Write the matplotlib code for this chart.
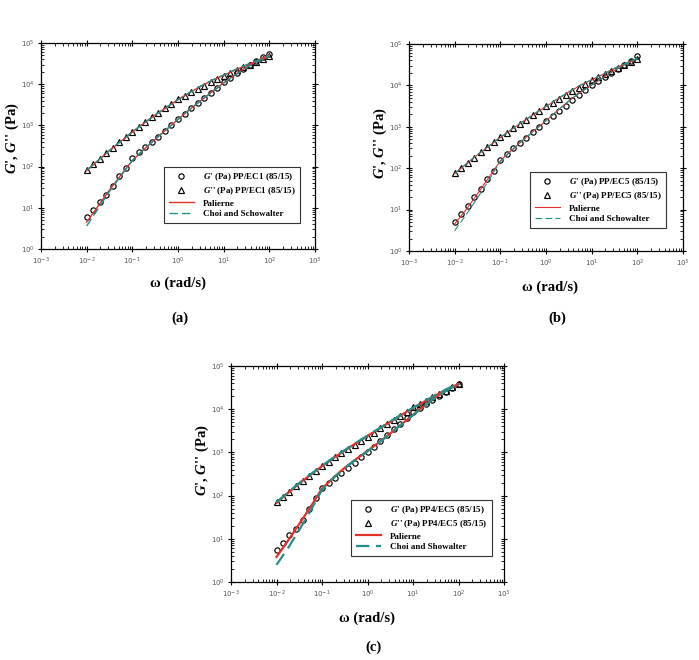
import matplotlib
matplotlib.use("Agg")
import matplotlib.pyplot as plt
from matplotlib.ticker import LogLocator, NullFormatter

plt.rcParams["mathtext.fontset"] = "custom"
plt.rcParams["mathtext.rm"] = "Liberation Serif:bold"
plt.rcParams["mathtext.it"] = "Liberation Serif:italic:bold"
plt.rcParams["mathtext.bf"] = "Liberation Serif:bold"

# angular frequency of the measured points (rad/s), 7 per decade
omega = [0.01, 0.0139, 0.0193, 0.0268, 0.0373, 0.0518, 0.072,
         0.1, 0.139, 0.193, 0.268, 0.373, 0.518, 0.72,
         1.0, 1.39, 1.93, 2.68, 3.73, 5.18, 7.2,
         10.0, 13.9, 19.3, 26.8, 37.3, 51.8, 72.0, 100.0]

# frequencies of the model curves
omega_fit = [0.01, 0.0178, 0.0316, 0.0562, 0.1, 0.178, 0.316, 0.562, 1.0,
             1.78, 3.16, 5.62, 10.0, 17.8, 31.6, 56.2, 100.0]

# (a) PP/EC1 (85/15)
a_g1 = [6, 9, 14, 21, 33, 60, 90, 160, 220, 300, 400, 530, 720, 1000,
        1400, 1900, 2600, 3500, 4700, 6200, 8300, 11000, 14500, 19000,
        24000, 30000, 37000, 45000, 55000]
a_g2 = [85, 115, 155, 210, 285, 385, 520, 700, 920, 1200, 1560, 2000, 2600,
        3350, 4300, 5200, 6300, 7600, 9100, 11000, 13200, 16000, 18700,
        21900, 25600, 29900, 35000, 41000, 48000]
a_pal_g1 = [4.5, 11, 27, 62, 140, 260, 460, 800, 1400, 2400, 4000, 6600,
            10800, 17000, 26000, 38000, 52000]
a_pal_g2 = [80, 140, 245, 410, 690, 1120, 1780, 2750, 4200, 6200, 8900,
            12400, 16500, 22000, 29000, 37000, 46000]
a_choi_g1 = [3.6, 9.5, 25, 60, 140, 260, 460, 800, 1400, 2400, 4000, 6500,
             10500, 16500, 25000, 36000, 50000]
a_choi_g2 = [82, 142, 248, 415, 700, 1130, 1800, 2780, 4250, 6250, 9000,
             12600, 16800, 22500, 29500, 38000, 47000]

# (b) PP/EC5 (85/15)
b_g1 = [5, 8, 12, 20, 32, 55, 85, 160, 220, 300, 400, 540, 740, 1000,
        1400, 1850, 2460, 3260, 4320, 5720, 7580, 10000, 12600, 15800,
        19900, 25000, 31500, 39700, 50000]
b_g2 = [76, 101, 135, 180, 240, 320, 425, 565, 725, 925, 1180, 1500, 1920,
        2450, 3100, 3820, 4720, 5820, 7180, 8860, 10900, 13500, 16000,
        18900, 22400, 26500, 31400, 37200, 44000]
b_pal_g1 = [4.5, 10, 24, 60, 150, 275, 480, 820, 1400, 2450, 4200, 6800,
            10200, 15500, 23000, 33000, 45000]
b_pal_g2 = [74, 125, 210, 340, 550, 870, 1340, 2050, 3100, 4650, 6900,
            10000, 13500, 18500, 25500, 34000, 43000]
b_choi_g1 = [3.1, 7.5, 19, 52, 145, 270, 480, 820, 1400, 2450, 4200, 6800,
             10200, 15500, 23000, 33000, 45000]
b_choi_g2 = [75, 127, 214, 346, 560, 885, 1365, 2090, 3160, 4740, 7030,
             10200, 13800, 18900, 26000, 34700, 43800]

# (c) PP4/EC5 (85/15)
c_g1 = [5.5, 8, 12, 17, 27, 50, 90, 150, 197, 258, 338, 443, 581, 762,
        1000, 1357, 1841, 2500, 3390, 4600, 6240, 8500, 10500, 13000,
        16200, 20000, 24800, 30700, 38000]
c_g2 = [71, 94, 123, 163, 214, 282, 372, 490, 611, 762, 950, 1185, 1480,
        1840, 2300, 2870, 3590, 4490, 5610, 7010, 8760, 11000, 13100,
        15700, 18700, 22300, 26700, 31800, 38000]
c_pal_g1 = [3.8, 9, 22, 55, 145, 260, 440, 700, 1080, 1700, 2750, 4500,
            7400, 12000, 19000, 28000, 38000]
c_pal_g2 = [68, 115, 190, 305, 480, 740, 1110, 1640, 2400, 3500, 5100,
            7400, 10600, 15000, 21000, 29000, 38000]
c_choi_g1 = [2.5, 6, 16, 45, 135, 255, 430, 690, 1060, 1680, 2720, 4450,
             7300, 11800, 18800, 27500, 37500]
c_choi_g2 = [70, 118, 195, 312, 490, 755, 1130, 1670, 2440, 3560, 5200,
             7550, 10800, 15300, 21500, 29500, 38500]

panels = [
    ("(a)", "PP/EC1", "Choi and Schowalter", a_g1, a_g2, a_pal_g1, a_pal_g2, a_choi_g1, a_choi_g2),
    ("(b)", "PP/EC5", "Choi and Schowalter", b_g1, b_g2, b_pal_g1, b_pal_g2, b_choi_g1, b_choi_g2),
    ("(c)", "PP4/EC5", "Choi and Showalter", c_g1, c_g2, c_pal_g1, c_pal_g2, c_choi_g1, c_choi_g2),
]

W, H = 699, 660
# axes boxes in pixels: left, top, right, bottom
boxes = [(41, 43, 315, 249), (409, 44, 683, 251), (231, 366, 504, 582)]
legend_at = [(0.449, 0.398), (0.442, 0.382), (0.44, 0.38)]
line_w = [1.0, 0.8, 1.6]
ylabel_at = [(12, 138), (380, 143), (202, 460)]
xlabel_at = [(178, 283), (550, 287), (367, 618)]
panel_at = [(180, 318), (557, 318), (373, 647)]

RED = "#e3302b"
TEAL = "#1f9189"
serif = ["Liberation Serif", "DejaVu Serif"]

fig = plt.figure(figsize=(W / 100, H / 100), dpi=100)

for i, (tag, blend, choi_name, g1, g2, pg1, pg2, cg1, cg2) in enumerate(panels):
    l, t, r, b = boxes[i]
    ax = fig.add_axes([l / W, 1 - b / H, (r - l) / W, (b - t) / H])
    ax.set_xscale("log")
    ax.set_yscale("log")
    ax.set_xlim(1e-3, 1e3)
    ax.set_ylim(1e0, 1e5)

    ax.plot(omega, g1, "o", ms=3.8, mfc="none", mec="black", mew=0.85,
            label="$G$' (Pa) %s (85/15)" % blend)
    ax.plot(omega, g2, "^", ms=3.8, mfc="none", mec="black", mew=0.85,
            label="$G$'' (Pa) %s (85/15)" % blend)
    lw = line_w[i]
    ax.plot(omega_fit, pg1, "-", color=RED, lw=lw, label="Palierne")
    ax.plot(omega_fit, pg2, "-", color=RED, lw=lw)
    ax.plot(omega_fit, cg1, "--", color=TEAL, lw=lw, dashes=(6, 3), label=choi_name)
    ax.plot(omega_fit, cg2, "--", color=TEAL, lw=lw, dashes=(6, 3))

    ax.xaxis.set_major_locator(LogLocator(base=10, numticks=10))
    ax.yaxis.set_major_locator(LogLocator(base=10, numticks=10))
    ax.xaxis.set_minor_locator(LogLocator(base=10, subs=range(2, 10), numticks=10))
    ax.yaxis.set_minor_locator(LogLocator(base=10, subs=range(2, 10), numticks=10))
    ax.xaxis.set_minor_formatter(NullFormatter())
    ax.yaxis.set_minor_formatter(NullFormatter())
    ax.tick_params(which="major", direction="inout", length=5, width=0.8,
                   top=True, right=True, labelsize=5, labelcolor="#555555", pad=2)
    ax.tick_params(which="minor", direction="in", length=2.5, width=0.6,
                   top=True, right=True)
    for s in ax.spines.values():
        s.set_linewidth(0.9)

    leg = ax.legend(loc="upper left", bbox_to_anchor=legend_at[i], frameon=True,
                    fancybox=False, edgecolor="#333333", framealpha=1,
                    handlelength=2.8, borderpad=0.5, labelspacing=0.25,
                    handletextpad=1.0, borderaxespad=0,
                    prop={"family": serif, "weight": "bold", "size": 6.5})
    leg.get_frame().set_linewidth(0.8)

    x, y = ylabel_at[i]
    fig.text(x / W, 1 - y / H, "$G$', $G$'' (Pa)", rotation=90, ha="center", va="center",
             family=serif, weight="bold", size=10.5)
    x, y = xlabel_at[i]
    fig.text(x / W, 1 - y / H, "ω (rad/s)", ha="center", va="center",
             family=serif, weight="bold", size=10.5)
    x, y = panel_at[i]
    fig.text(x / W, 1 - y / H, tag, ha="center", va="center",
             family=serif, weight="bold", size=10.5)

fig.savefig("out.png", dpi=100)
